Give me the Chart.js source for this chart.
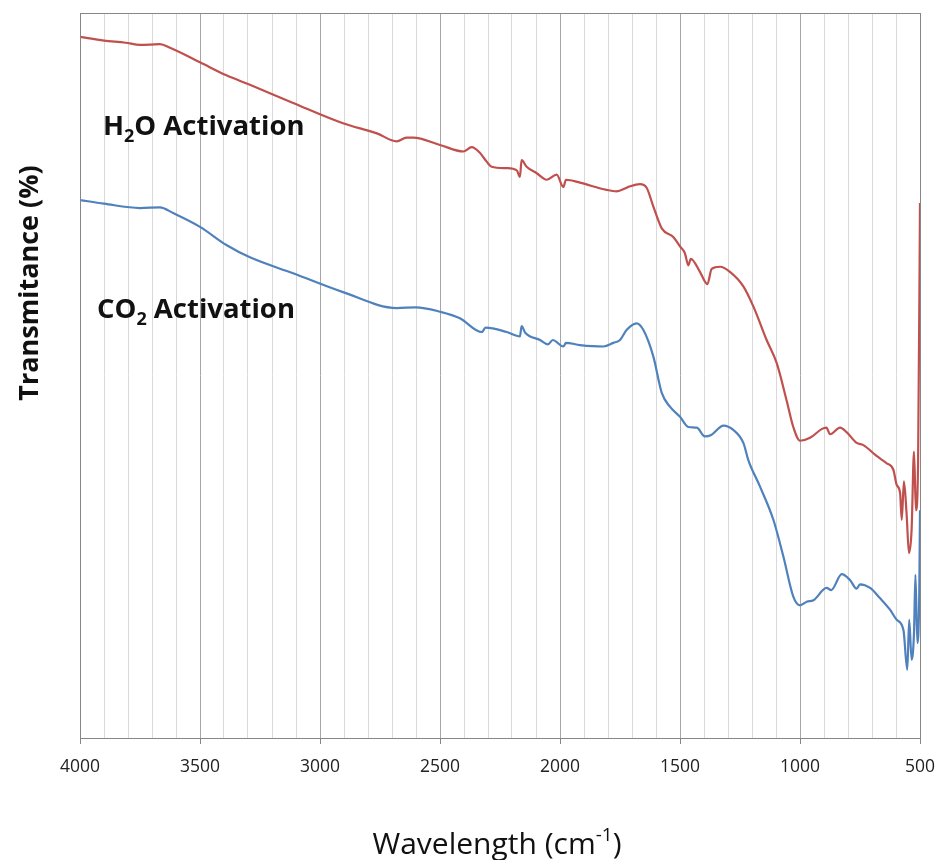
<!DOCTYPE html>
<html>
<head>
<meta charset="utf-8">
<script src="https://cdn.jsdelivr.net/npm/chart.js@4.4.0/dist/chart.umd.min.js"></script>
<style>
  html, body { margin: 0; padding: 0; background: #fff; }
  #wrap { width: 943px; height: 860px; }
</style>
</head>
<body>
<div id="wrap"><canvas id="ftir" width="943" height="860"></canvas></div>
<script>
// FTIR spectra, values (transmittance, arbitrary %)
const h2oWave = [4000, 3900, 3810, 3750, 3667, 3625, 3500, 3390, 3292, 3112, 2904, 2763, 2680, 2640, 2612,
  2500, 2403, 2368, 2333, 2310, 2285, 2222, 2180, 2167, 2160, 2139, 2097, 2055, 2014, 1986, 1975, 1917,
  1806, 1764, 1722, 1708, 1667, 1639, 1611, 1576, 1528, 1500, 1480, 1465, 1455, 1417, 1386, 1368, 1333,
  1292, 1236, 1194, 1139, 1097, 1056, 1028, 1000, 958, 910, 890, 875, 833, 806, 764, 736, 681, 639, 611,
  597, 583, 576, 567, 556, 546, 535, 525, 517, 508, 500];
const h2oTrans = [96.7, 96.2, 95.9, 95.6, 95.7, 95.2, 93.2, 91.4, 90.1, 87.6, 84.8, 83.4, 82.3, 82.8, 82.8,
  81.8, 80.9, 81.5, 80.7, 79.7, 78.8, 78.6, 78.3, 77.4, 79.7, 78.8, 77.9, 77.0, 77.7, 76.0, 77.0, 76.6,
  75.6, 75.4, 75.9, 76.1, 76.4, 75.9, 73.3, 70.3, 69.1, 67.8, 66.9, 65.2, 66.1, 64.3, 62.6, 64.7, 65.0,
  64.3, 62.3, 59.5, 54.9, 51.7, 46.6, 42.9, 41.0, 41.4, 42.6, 42.8, 41.9, 42.8, 42.2, 40.7, 40.4, 38.9, 37.9, 37.0,
  34.9, 33.8, 30.1, 35.4, 31.0, 25.5, 28.7, 39.5, 31.4, 37.9, 73.8];

const co2Wave = [4000, 3900, 3750, 3667, 3612, 3500, 3390, 3292, 3112, 2904, 2680, 2600, 2500, 2417, 2326,
  2310, 2222, 2167, 2160, 2145, 2083, 2050, 2030, 1986, 1975, 1917, 1819, 1778, 1750, 1722, 1681, 1653,
  1611, 1576, 1542, 1500, 1465, 1430, 1396, 1370, 1319, 1278, 1236, 1215, 1167, 1111, 1069, 1028, 1000,
  972, 944, 889, 870, 826, 792, 764, 750, 708, 667, 625, 597, 569, 553, 545, 535, 525, 519, 511, 503, 500];
const co2Trans = [74.2, 73.7, 73.1, 73.2, 72.4, 70.5, 68.0, 66.3, 64.1, 61.5, 59.3, 59.4, 58.8, 57.9, 56.0,
  56.6, 56.0, 55.4, 56.8, 55.9, 54.9, 54.3, 54.9, 54.0, 54.5, 54.2, 54.0, 54.5, 54.9, 56.3, 57.2, 56.3,
  52.6, 47.6, 45.7, 44.3, 42.9, 42.8, 41.6, 41.8, 43.1, 42.5, 40.7, 38.3, 34.7, 30.1, 25.0, 19.5, 18.3,
  18.8, 19.0, 20.7, 20.4, 22.6, 21.8, 20.6, 21.2, 20.7, 19.3, 17.7, 16.3, 14.9, 9.4, 16.3, 10.8, 14.5, 22.5, 13.1, 20.0, 31.4];

const xMin = 500, xMax = 4000;
const labelFont = '"Open Sans", "DejaVu Sans", sans-serif';

const RED = '#c0504d', BLUE = '#4f81bd';

function toXY(xs, ys) { return xs.map((x, i) => ({ x, y: ys[i] })); }

// frame around plot + texts with sub/superscripts
const decor = {
  id: 'decor',
  afterDraw(chart) {
    const { ctx, chartArea: a } = chart;
    ctx.save();
    ctx.strokeStyle = '#868686';
    ctx.lineWidth = 1;
    ctx.strokeRect(Math.round(a.left) + 0.5, Math.round(a.top) + 0.5, Math.round(a.right - a.left), Math.round(a.bottom - a.top));

    ctx.fillStyle = '#111';
    ctx.textBaseline = 'alphabetic';
    const drawParts = (x, y, parts) => {
      parts.forEach(p => {
        ctx.font = p.font;
        ctx.fillText(p.t, x, y + (p.dy || 0));
        x += ctx.measureText(p.t).width;
      });
    };
    const big = 'bold 27.5px ' + labelFont, small = 'bold 18px ' + labelFont;
    drawParts(103, 135, [{ t: 'H', font: big }, { t: '2', font: small, dy: 7 }, { t: 'O Activation', font: big }]);
    drawParts(97, 318, [{ t: 'CO', font: big }, { t: '2', font: small, dy: 7 }, { t: ' Activation', font: big }]);

    // x title
    const xf = '30px ' + labelFont, xs = '19px ' + labelFont;
    const parts = [{ t: 'Wavelength (cm', font: xf }, { t: '-1', font: xs, dy: -13 }, { t: ')', font: xf }];
    let w = 0;
    parts.forEach(p => { ctx.font = p.font; w += ctx.measureText(p.t).width; });
    drawParts(497 - w / 2, 854, parts);

    // y title
    ctx.translate(30, 283);
    ctx.rotate(-Math.PI / 2);
    ctx.font = 'bold 27px ' + labelFont;
    ctx.textAlign = 'center';
    ctx.textBaseline = 'middle';
    ctx.fillText('Transmitance (%)', 0, 0);
    ctx.restore();
  }
};

new Chart(document.getElementById('ftir'), {
  type: 'line',
  data: {
    datasets: [
      { label: 'H2O Activation', data: toXY(h2oWave, h2oTrans), borderColor: RED, borderWidth: 2.2, pointRadius: 0, cubicInterpolationMode: 'monotone' },
      { label: 'CO2 Activation', data: toXY(co2Wave, co2Trans), borderColor: BLUE, borderWidth: 2.2, pointRadius: 0, cubicInterpolationMode: 'monotone' },
    ]
  },
  options: {
    responsive: false,
    animation: false,
    events: [],
    layout: { padding: { left: 80, right: 23, top: 13, bottom: 0 } },
    plugins: { legend: { display: false }, tooltip: { enabled: false } },
    scales: {
      x: {
        type: 'linear', reverse: true, min: xMin, max: xMax,
        afterFit: s => { s.height = 122; s.paddingLeft = 0; s.paddingRight = 0; },
        border: { display: false },
        grid: {
          color: c => (c.tick && c.tick.value % 500 === 0) ? '#a6a6a6' : '#d9d9d9',
          tickColor: c => (c.tick && c.tick.value % 500 === 0) ? '#868686' : 'rgba(0,0,0,0)',
          tickLength: 6,
          lineWidth: 1
        },
        ticks: {
          stepSize: 100, autoSkip: false, maxRotation: 0, padding: 13,
          color: '#222', font: { family: labelFont, size: 17.5 },
          callback: v => v % 500 === 0 ? String(v) : ''
        }
      },
      y: {
        min: 0, max: 100,
        afterFit: s => { s.width = 0; s.paddingTop = 0; s.paddingBottom = 0; },
        border: { display: false },
        grid: { display: false },
        ticks: { display: false }
      }
    }
  },
  plugins: [decor]
});
</script>
</body>
</html>
